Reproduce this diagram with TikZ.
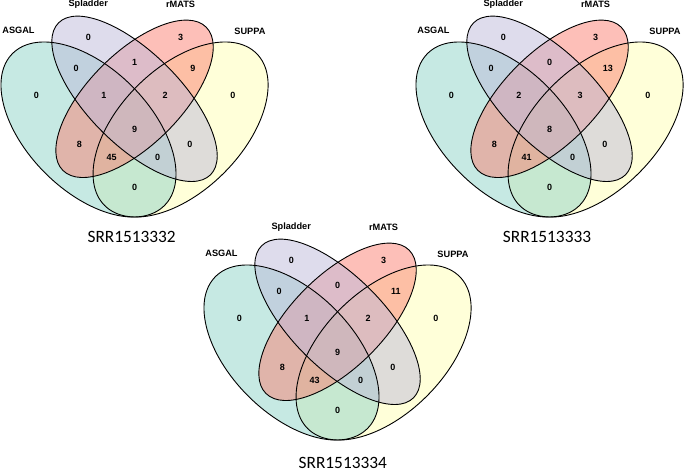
\documentclass[tikz,border=0pt]{standalone}
\usepackage{fontspec}
\setmainfont{Liberation Sans}
\newfontfamily\titlefont{Carlito}
\definecolor{cASGAL}{HTML}{8DD3C7}
\definecolor{cSPL}{HTML}{BEBADA}
\definecolor{cRMATS}{HTML}{FB8072}
\definecolor{cSUPPA}{HTML}{FFFFB3}
\tikzset{
  vfill/.style={fill opacity=0.5},
  vline/.style={draw=black, line width=0.9pt},
  num/.style={font=\fontsize{9}{10}\selectfont\bfseries, inner sep=0pt},
  cat/.style={font=\fontsize{9.2}{10}\selectfont\bfseries, inner sep=0pt},
  ttl/.style={font=\titlefont\fontsize{17.3}{18}\selectfont, inner sep=0pt, anchor=base},
}
\newcommand\vennshapes[1]{%
  \fill[cSUPPA, vfill, rotate around={45:(0.65,0.47)}] (0.65,0.47) ellipse [x radius=0.35, y radius=0.2];
  \fill[cASGAL, vfill, rotate around={135:(0.35,0.47)}] (0.35,0.47) ellipse [x radius=0.35, y radius=0.2];
  \fill[cRMATS, vfill, rotate around={45:(0.5,0.57)}] (0.5,0.57) ellipse [x radius=0.33, y radius=0.15];
  \fill[cSPL, vfill, rotate around={135:(0.5,0.57)}] (0.5,0.57) ellipse [x radius=0.35, y radius=0.15];
  \draw[vline, rotate around={135:(0.35,0.47)}] (0.35,0.47) ellipse [x radius=0.35, y radius=0.2];
  \draw[vline, rotate around={135:(0.5,0.57)}] (0.5,0.57) ellipse [x radius=0.35, y radius=0.15];
  \draw[vline, rotate around={45:(0.5,0.57)}] (0.5,0.57) ellipse [x radius=0.33, y radius=0.15];
  \draw[vline, rotate around={45:(0.65,0.47)}] (0.65,0.47) ellipse [x radius=0.35, y radius=0.2];
  \node[cat] (#1asgal) at (0.122,0.792) {ASGAL};
  \node[cat] (#1spl) at (0.349,0.877) {Spladder};
  \node[cat] (#1rmats) at (0.650,0.878) {rMATS};
  \node[cat] (#1suppa) at (0.876,0.790) {SUPPA};
}
% args: name prefix, then 15 counts in VennDiagram order
\newcommand\vennnums[9]{%
  \node[num] (#1a1) at (0.35,0.77) {#2};
  \node[num] (#1a2) at (0.5,0.69) {#3};
  \node[num] (#1a3) at (0.65,0.77) {#4};
  \node[num] (#1a4) at (0.31,0.67) {#5};
  \node[num] (#1a5) at (0.4,0.58) {#6};
  \node[num] (#1a6) at (0.5,0.47) {#7};
  \node[num] (#1a7) at (0.6,0.58) {#8};
  \node[num] (#1a8) at (0.69,0.67) {#9};
  \vennnumsb{#1}%
}
\newcommand\vennnumsb[8]{%
  \node[num] (#1a9) at (0.18,0.58) {#2};
  \node[num] (#1a10) at (0.32,0.42) {#3};
  \node[num] (#1a11) at (0.425,0.38) {#4};
  \node[num] (#1a12) at (0.5,0.28) {#5};
  \node[num] (#1a13) at (0.575,0.38) {#6};
  \node[num] (#1a14) at (0.68,0.42) {#7};
  \node[num] (#1a15) at (0.82,0.58) {#8};
}
\begin{document}
\begin{tikzpicture}
\useasboundingbox (0,0) rectangle (685pt,472pt);
\begin{scope}[shift={(-18.96pt,198.2pt)}, x=307pt, y=307pt]
  \vennshapes{p}
  \vennnums{p}{0}{1}{3}{0}{1}{9}{2}{9}{0}{8}{45}{0}{0}{0}{0}
\end{scope}
\begin{scope}[shift={(396.04pt,198.2pt)}, x=307pt, y=307pt]
  \vennshapes{q}
  \vennnums{q}{0}{0}{3}{0}{2}{8}{3}{13}{0}{8}{41}{0}{0}{0}{0}
\end{scope}
\begin{scope}[shift={(184.04pt,-24.8pt)}, x=307pt, y=307pt]
  \vennshapes{r}
  \vennnums{r}{0}{0}{3}{0}{1}{9}{2}{11}{0}{8}{43}{0}{0}{0}{0}
\end{scope}
\node[ttl] (t1) at (131.7pt,230pt) {SRR1513332};
\node[ttl] (t2) at (547pt,230pt) {SRR1513333};
\node[ttl] (t3) at (342.8pt,4pt) {SRR1513334};
\end{tikzpicture}
\end{document}
